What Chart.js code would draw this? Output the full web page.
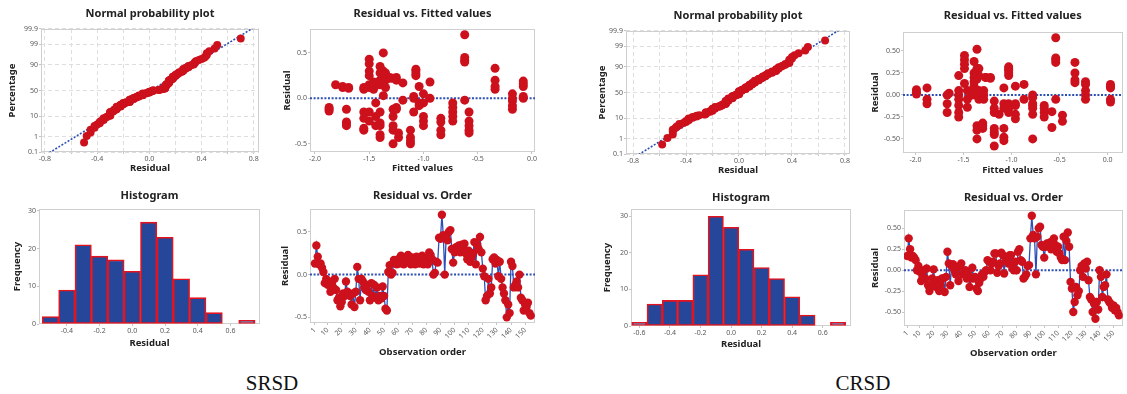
<!DOCTYPE html>
<html>
<head>
<meta charset="utf-8">
<script src="https://cdn.jsdelivr.net/npm/chart.js@4.4.1/dist/chart.umd.min.js"></script>
<style>
  body { margin: 0; background: #fff; width: 1127px; height: 394px; position: relative; overflow: hidden; }
  canvas { position: absolute; }
  .caption { position: absolute; width: 100px; text-align: center; font-family: "Liberation Serif", serif; font-size: 21px; color: #111; }
</style>
</head>
<body>
<canvas id="srsdProb" width="268" height="183" style="left:3px;top:5px"></canvas>
<canvas id="srsdFit" width="275" height="183" style="left:272px;top:5px"></canvas>
<canvas id="srsdHist" width="271" height="175" style="left:1px;top:185px"></canvas>
<canvas id="srsdOrder" width="275" height="174" style="left:272px;top:185px"></canvas>
<canvas id="crsdProb" width="274" height="183" style="left:588px;top:7px"></canvas>
<canvas id="crsdFit" width="262" height="181" style="left:865px;top:8px"></canvas>
<canvas id="crsdHist" width="270" height="177" style="left:593px;top:185px"></canvas>
<canvas id="crsdOrder" width="261" height="176" style="left:866px;top:186px"></canvas>
<div class="caption" style="left:222px;top:371px">SRSD</div>
<div class="caption" style="left:813px;top:371px">CRSD</div>
<script>
// residuals in observation order
const srsdResiduals = [
  0.13, 0.34, 0.21, 0.12, 0.13, 0.08, 0.03, -0.10, -0.05, -0.12,
  -0.08, -0.20, -0.10, -0.15, -0.05, -0.18, -0.30, -0.27, -0.37, -0.32,
  -0.22, -0.25, -0.08, -0.20, -0.22, -0.25, -0.35, -0.22, -0.38, -0.20,
  0.09, -0.05, -0.30, -0.05, -0.08, -0.15, -0.18, -0.12, -0.20, -0.30,
  -0.10, -0.25, -0.12, -0.27, -0.15, -0.30, -0.25, -0.28, -0.14, -0.25,
  -0.40, -0.42, 0.03, 0.11, 0.00, 0.02, 0.17, 0.15, 0.12, 0.18,
  0.13, 0.22, 0.15, 0.12, 0.18, 0.14, 0.23, 0.16, 0.12, 0.20,
  0.15, 0.12, 0.21, 0.16, 0.13, 0.18, 0.22, 0.12, 0.19, 0.15,
  0.12, 0.26, 0.23, 0.18, 0.00, 0.02, 0.15, 0.14, 0.43, 0.42,
  0.70, 0.46, 0.00, 0.44, 0.40, 0.50, 0.52, 0.30, 0.14, 0.26,
  0.32, 0.28, 0.34, 0.26, 0.35, 0.30, 0.36, 0.25, 0.18, 0.28,
  0.15, 0.20, 0.25, 0.38, 0.12, 0.35, 0.30, 0.44, 0.26, 0.07,
  -0.02, -0.30, -0.25, -0.05, -0.22, -0.15, 0.18, 0.20, 0.13, 0.17,
  -0.02, 0.15, -0.05, -0.15, -0.22, -0.30, -0.50, -0.35, -0.45, 0.15,
  0.10, -0.15, -0.12, -0.08, -0.15, 0.00, -0.27, -0.30, -0.42, -0.35,
  -0.38, -0.33, -0.45, -0.48
];
const crsdResiduals = [
  0.17, 0.38, 0.25, 0.15, 0.17, 0.15, 0.12, 0.00, 0.05, -0.02,
  -0.13, -0.08, 0.00, -0.10, 0.02, -0.18, -0.25, -0.20, -0.10, 0.01,
  -0.15, -0.20, -0.12, -0.25, -0.18, -0.10, -0.10, -0.26, -0.08, 0.22,
  0.08, -0.18, 0.05, 0.07, 0.00, -0.05, 0.03, -0.13, 0.05, 0.08,
  -0.05, -0.02, 0.00, -0.10, -0.05, -0.20, -0.10, 0.03, -0.10, -0.08,
  -0.22, -0.25, -0.15, -0.10, -0.05, -0.08, -0.02, 0.00, 0.12, 0.10,
  0.00, 0.08, 0.10, 0.20, 0.20, -0.03, 0.05, 0.08, 0.21, 0.18,
  -0.04, 0.15, 0.12, 0.08, 0.18, 0.18, 0.02, 0.00, 0.10, 0.00,
  0.22, 0.25, 0.12, 0.10, -0.10, -0.08, -0.05, 0.05, 0.06, 0.38,
  0.65, 0.42, 0.38, -0.05, 0.40, 0.50, 0.52, 0.30, 0.28, 0.15,
  0.28, 0.32, 0.30, 0.33, 0.25, 0.35, 0.38, 0.30, 0.22, 0.28,
  0.20, 0.15, 0.12, 0.40, 0.12, 0.35, 0.45, 0.28, -0.14, -0.22,
  -0.50, -0.38, -0.20, -0.30, -0.25, 0.00, 0.05, -0.08, 0.08, 0.02,
  0.10, -0.12, -0.32, -0.35, -0.50, -0.40, -0.58, -0.38, -0.47, 0.00,
  -0.08, -0.32, -0.20, -0.18, -0.05, -0.35, -0.38, -0.40, -0.45, -0.42,
  -0.48, -0.45, -0.50, -0.54
];

// residuals grouped by fitted value
const srsdFitLevels = [-1.87, -1.81, -1.745, -1.69, -1.71, -1.55, -1.50, -1.46, -1.44, -1.40,
  -1.37, -1.35, -1.31, -1.28, -1.25, -1.23, -1.19, -1.12, -1.09, -1.07,
  -1.04, -1.00, -0.94, -0.84, -0.73, -0.62, -0.58, -0.34, -0.18, -0.08];
const srsdFitResiduals = [
  [-0.10, -0.12, -0.14], [0.15], [0.13, 0.12], [0.12, 0.11], [-0.12, -0.26, -0.28, -0.30],
  [-0.15, -0.22, -0.33, -0.35, 0.10, 0.12], [0.43, 0.38, 0.30, 0.25, 0.15, 0.12, 0.14, -0.15, -0.25],
  [0.15, 0.18, 0.12, 0.10], [-0.05, -0.20, -0.30], [0.35, 0.28, 0.20, 0.15, -0.15, -0.27, -0.30, -0.40, -0.43],
  [0.50, 0.30, 0.25, 0.15, 0.03], [0.28, 0.20, 0.12], [0.23, 0.22], [-0.20, -0.30, -0.35, -0.50, -0.12, 0.22],
  [0.23, 0.20, -0.10, -0.12], [-0.38, -0.43], [0.17, -0.02], [-0.35, -0.43, -0.47, -0.50],
  [0.00, 0.02, -0.15], [0.32, 0.30, 0.27, 0.25], [0.13, -0.05, -0.08], [0.05, -0.05, -0.20, -0.25, -0.30],
  [0.18, 0.00], [-0.22, -0.26, -0.35, -0.40], [-0.05, -0.10, -0.15, -0.20, -0.25],
  [0.70, 0.45, 0.42, 0.40, -0.02], [-0.15, -0.25, -0.30, -0.35, -0.38], [0.33, 0.20, 0.13, 0.10],
  [0.05, 0.00, -0.03, -0.08, -0.12], [0.19, 0.16, 0.13, 0.02, 0.00]
];
const crsdFitLevels = [-1.99, -1.88, -1.67, -1.65, -1.55, -1.49, -1.46, -1.41, -1.39, -1.36,
  -1.34, -1.30, -1.29, -1.27, -1.22, -1.18, -1.13, -1.08, -1.03, -0.96,
  -0.87, -0.78, -0.66, -0.58, -0.54, -0.47, -0.34, -0.23, 0.03];
const crsdFitResiduals = [
  [0.06, 0.03, 0.01], [0.08, -0.05, -0.10], [0.00, -0.10, -0.20], [0.02],
  [0.22, 0.05, 0.00, -0.05, -0.12, -0.20, -0.25], [0.45, 0.40, 0.35, 0.30, 0.13], [0.05, -0.05, -0.14],
  [0.00, 0.05], [0.38, 0.25, 0.20, 0.15, 0.10], [0.52, 0.30, 0.28, 0.22, 0.18, -0.35, -0.40, -0.50],
  [0.30, 0.22, 0.05, 0.00, -0.05], [-0.32, -0.35, -0.38], [0.05, 0.00, -0.05], [0.20, 0.20],
  [0.20, 0.19], [-0.07, -0.15, -0.20, -0.38, -0.42, -0.45, -0.58], [-0.22],
  [0.08, -0.10, -0.15, -0.38, -0.48, -0.52], [0.32, 0.30, 0.28, 0.25, 0.22, -0.10, -0.15, -0.20],
  [0.10, -0.10, -0.12, -0.22, -0.27], [0.12, -0.05], [0.00, -0.03, -0.10, -0.12, -0.15, -0.22, -0.50],
  [-0.12, -0.15, -0.20, -0.25], [-0.19, -0.37], [0.65, 0.42, 0.40, 0.37, -0.05], [-0.23, -0.30],
  [0.37, 0.25, 0.17, 0.14], [0.15, 0.12, 0.05, 0.00, -0.05], [0.12, 0.10, 0.08, -0.05, -0.08]
];

// histogram bins (centres) and counts
const srsdBinCenters = [-0.5, -0.4, -0.3, -0.2, -0.1, 0.0, 0.1, 0.2, 0.3, 0.4, 0.5, 0.6, 0.7];
const srsdBinCounts = [2, 9, 21, 18, 17, 14, 27, 23, 12, 7, 3, 0, 1];
const crsdBinCenters = [-0.6, -0.5, -0.4, -0.3, -0.2, -0.1, 0.0, 0.1, 0.2, 0.3, 0.4, 0.5, 0.6, 0.7];
const crsdBinCounts = [1, 6, 7, 7, 14, 30, 27, 21, 16, 13, 8, 3, 0, 1];

// tick values
const probPercentTicks = [0.1, 1, 10, 50, 90, 99, 99.9];
const probResidualLabels = [-0.8, -0.4, 0.0, 0.4, 0.8];
const probResidualGrid = [-0.8, -0.6, -0.4, -0.2, 0.0, 0.2, 0.4, 0.6, 0.8];
const fittedTicks = [-2.0, -1.5, -1.0, -0.5, 0.0];
const srsdResidualTicks = [-0.5, 0.0, 0.5];
const crsdResidualTicks = [-0.5, -0.25, 0.0, 0.25, 0.5];
const srsdHistTicks = [-0.4, -0.2, 0.0, 0.2, 0.4, 0.6];
const crsdHistTicks = [-0.6, -0.4, -0.2, 0.0, 0.2, 0.4, 0.6];
const frequencyTicks = [0, 10, 20, 30];
const orderTicks = [1, 10, 20, 30, 40, 50, 60, 70, 80, 90, 100, 110, 120, 130, 140, 150];

const RED = '#cc111d';
const BLUE = '#2c4fb6';
const BAR_BLUE = '#26469a';
const BAR_RED = '#e3141e';
const Y_AXIS_W = 38;
const X_AXIS_H = 36;

Chart.defaults.font.family = '"Noto Sans", sans-serif';
Chart.defaults.color = '#555';

Chart.register({
  id: 'panelTitle',
  afterDraw(chart, args, opts) {
    const { ctx, chartArea } = chart;
    ctx.save();
    ctx.font = 'bold 11px "Noto Sans", sans-serif';
    ctx.fillStyle = '#222';
    ctx.textAlign = 'center';
    ctx.textBaseline = 'middle';
    ctx.fillText(opts.text, (chartArea.left + chartArea.right) / 2, chartArea.top - opts.offset);
    ctx.restore();
  }
});

Chart.register({
  id: 'plotFrame',
  beforeDatasetsDraw(chart) {
    const { ctx, chartArea: a } = chart;
    ctx.save();
    ctx.strokeStyle = '#cfcfcf';
    ctx.lineWidth = 1;
    ctx.strokeRect(Math.round(a.left) + 0.5, Math.round(a.top) + 0.5, Math.round(a.width) - 1, Math.round(a.height) - 1);
    ctx.restore();
  }
});

// inverse of the standard normal CDF
function normInv(p) {
  const a = [-39.69683028665376, 220.9460984245205, -275.9285104469687, 138.3577518672690, -30.66479806614716, 2.506628277459239];
  const b = [-54.47609879822406, 161.5858368580409, -155.6989798598866, 66.80131188771972, -13.28068155288572];
  const c = [-0.007784894002430293, -0.3223964580411365, -2.400758277161838, -2.549732539343734, 4.374664141464968, 2.938163982698783];
  const d = [0.007784695709041462, 0.3224671290700398, 2.445134137142996, 3.754408661907416];
  const lo = 0.02425;
  if (p < lo) {
    const q = Math.sqrt(-2 * Math.log(p));
    return (((((c[0] * q + c[1]) * q + c[2]) * q + c[3]) * q + c[4]) * q + c[5]) / ((((d[0] * q + d[1]) * q + d[2]) * q + d[3]) * q + 1);
  }
  if (p > 1 - lo) return -normInv(1 - p);
  const q = p - 0.5, r = q * q;
  return (((((a[0] * r + a[1]) * r + a[2]) * r + a[3]) * r + a[4]) * r + a[5]) * q /
    (((((b[0] * r + b[1]) * r + b[2]) * r + b[3]) * r + b[4]) * r + 1);
}

function probPoints(res) {
  const sorted = [...res].sort((a, b) => a - b);
  const n = sorted.length;
  return sorted.map((r, i) => ({ x: r, y: normInv((i + 0.7) / (n + 0.4)) }));
}

function normalLine(res) {
  const n = res.length;
  const mean = res.reduce((s, v) => s + v, 0) / n;
  const sd = Math.sqrt(res.reduce((s, v) => s + (v - mean) ** 2, 0) / (n - 1));
  return [{ x: mean - 3.6 * sd, y: -3.6 }, { x: mean + 3.6 * sd, y: 3.6 }];
}

function fitPoints(levels, groups) {
  const pts = [];
  levels.forEach((f, i) => groups[i].forEach(r => pts.push({ x: f, y: r })));
  return pts;
}

const fmt1 = v => v.toFixed(1);
const fmt2 = v => v.toFixed(2);

function axis(cfg) {
  const rot = cfg.rotate || 0;
  return {
    type: 'linear',
    min: cfg.min,
    max: cfg.max,
    offset: false,
    afterBuildTicks: s => { s.ticks = cfg.ticks.map(v => ({ value: v })); },
    afterFit: s => { if (s.isHorizontal()) s.height = X_AXIS_H; else s.width = Y_AXIS_W; },
    border: { display: false, dash: cfg.grid ? [4, 3] : [] },
    grid: {
      offset: false,
      drawOnChartArea: !!cfg.grid,
      color: '#dedede',
      tickColor: '#c4c4c4',
      tickLength: 2
    },
    ticks: {
      autoSkip: false,
      maxRotation: rot,
      minRotation: rot,
      padding: 1,
      color: '#5a5a5a',
      font: { size: 7 },
      callback: cfg.format
    },
    title: {
      display: true,
      text: cfg.title,
      color: '#222',
      font: { size: 9.5, weight: 'bold' },
      padding: cfg.titlePad
    }
  };
}

function options(title, titleOffset, padRight, x, y) {
  return {
    responsive: false,
    animation: false,
    layout: { padding: { top: 24, right: padRight, left: 0, bottom: 0 } },
    plugins: {
      legend: { display: false },
      tooltip: { enabled: false },
      panelTitle: { text: title, offset: titleOffset }
    },
    scales: { x: axis(x), y: axis(y) }
  };
}

function refLine(x0, x1) {
  return {
    data: [{ x: x0, y: 0 }, { x: x1, y: 0 }],
    borderColor: BLUE, borderWidth: 2, borderDash: [2, 1.6],
    pointRadius: 0, showLine: true
  };
}

// --- Normal probability plots ---
function probChart(id, res, xMin, xMax, titlePadY, titlePadX, padRight, titleOffset) {
  const zTicks = probPercentTicks.map(p => normInv(p / 100));
  new Chart(document.getElementById(id), {
    type: 'scatter',
    data: {
      datasets: [
        { data: probPoints(res), pointRadius: 4, pointBackgroundColor: RED, pointBorderWidth: 0 },
        { data: normalLine(res), showLine: true, borderColor: BLUE, borderWidth: 1.6, borderDash: [2, 1.6], pointRadius: 0 }
      ]
    },
    options: options('Normal probability plot', titleOffset, padRight,
      { min: xMin, max: xMax, ticks: probResidualGrid, grid: true, title: 'Residual', titlePad: { bottom: titlePadX },
        format: v => probResidualLabels.some(t => Math.abs(t - v) < 1e-9) ? fmt1(v) : '' },
      { min: normInv(0.001), max: normInv(0.999), ticks: zTicks, grid: true, title: 'Percentage', titlePad: { top: titlePadY },
        format: (v, i) => String(probPercentTicks[i]) })
  });
}

// --- Residual vs fitted ---
function fitChart(id, levels, groups, xMin, xMax, yMin, yMax, yTicks, yFmt, titlePadY, titlePadX, padRight, titleOffset) {
  new Chart(document.getElementById(id), {
    type: 'scatter',
    data: {
      datasets: [
        { data: fitPoints(levels, groups), pointRadius: 4.5, pointBackgroundColor: RED, pointBorderWidth: 0 },
        refLine(xMin, xMax)
      ]
    },
    options: options('Residual vs. Fitted values', titleOffset, padRight,
      { min: xMin, max: xMax, ticks: fittedTicks, title: 'Fitted values', titlePad: { bottom: titlePadX }, format: fmt1 },
      { min: yMin, max: yMax, ticks: yTicks, title: 'Residual', titlePad: { top: titlePadY }, format: yFmt })
  });
}

// --- Histograms ---
function histChart(id, centers, counts, xMin, xMax, yMax, xTicks, titlePadY, titlePadX, padRight, titleOffset) {
  new Chart(document.getElementById(id), {
    type: 'bar',
    data: {
      datasets: [{
        data: centers.map((c, i) => ({ x: c, y: counts[i] })),
        backgroundColor: BAR_BLUE,
        borderColor: BAR_RED,
        borderWidth: 1.6,
        borderSkipped: false,
        barPercentage: 1,
        categoryPercentage: 1
      }]
    },
    options: options('Histogram', titleOffset, padRight,
      { min: xMin, max: xMax, ticks: xTicks, title: 'Residual', titlePad: { bottom: titlePadX }, format: fmt1 },
      { min: 0, max: yMax, ticks: frequencyTicks, title: 'Frequency', titlePad: { top: titlePadY }, format: v => String(v) })
  });
}

// --- Residual vs observation order ---
function orderChart(id, res, xMin, xMax, yMin, yMax, yTicks, yFmt, titlePadY, titlePadX, padRight, titleOffset) {
  new Chart(document.getElementById(id), {
    type: 'scatter',
    data: {
      datasets: [
        { data: res.map((r, i) => ({ x: i + 1, y: r })), showLine: true, borderColor: BLUE, borderWidth: 1.3,
          pointRadius: 4.2, pointBackgroundColor: RED, pointBorderWidth: 0 },
        refLine(xMin, xMax)
      ]
    },
    options: options('Residual vs. Order', titleOffset, padRight,
      { min: xMin, max: xMax, ticks: orderTicks, rotate: 45, title: 'Observation order', titlePad: { bottom: titlePadX }, format: v => String(v) },
      { min: yMin, max: yMax, ticks: yTicks, title: 'Residual', titlePad: { top: titlePadY }, format: yFmt })
  });
}

probChart('srsdProb', srsdResiduals, -0.83, 0.84, 3.3, 14.3, 12, 15);
fitChart('srsdFit', srsdFitLevels, srsdFitResiduals, -2.046, 0.028, -0.59, 0.763, srsdResidualTicks, fmt1, 9.3, 14.3, 12, 15);
histChart('srsdHist', srsdBinCenters, srsdBinCounts, -0.57, 0.78, 30.5, srsdHistTicks, 10.3, 11.3, 12, 13);
orderChart('srsdOrder', srsdResiduals, -2.5, 157, -0.566, 0.767, srsdResidualTicks, fmt1, 7.3, 1.3, 12, 13);

probChart('crsdProb', crsdResiduals, -0.853, 0.838, 8.3, 14.3, 12, 15);
fitChart('crsdFit', crsdFitLevels, crsdFitResiduals, -2.13, 0.155, -0.66, 0.716, crsdResidualTicks, fmt2, 4.3, 13.3, 3, 16);
histChart('crsdHist', crsdBinCenters, crsdBinCounts, -0.655, 0.785, 32, crsdHistTicks, 8.3, 12.3, 12, 11);
orderChart('crsdOrder', crsdResiduals, -1.4, 156.8, -0.667, 0.719, crsdResidualTicks, fmt2, 3.3, 3.3, 2, 12);
</script>
</body>
</html>
